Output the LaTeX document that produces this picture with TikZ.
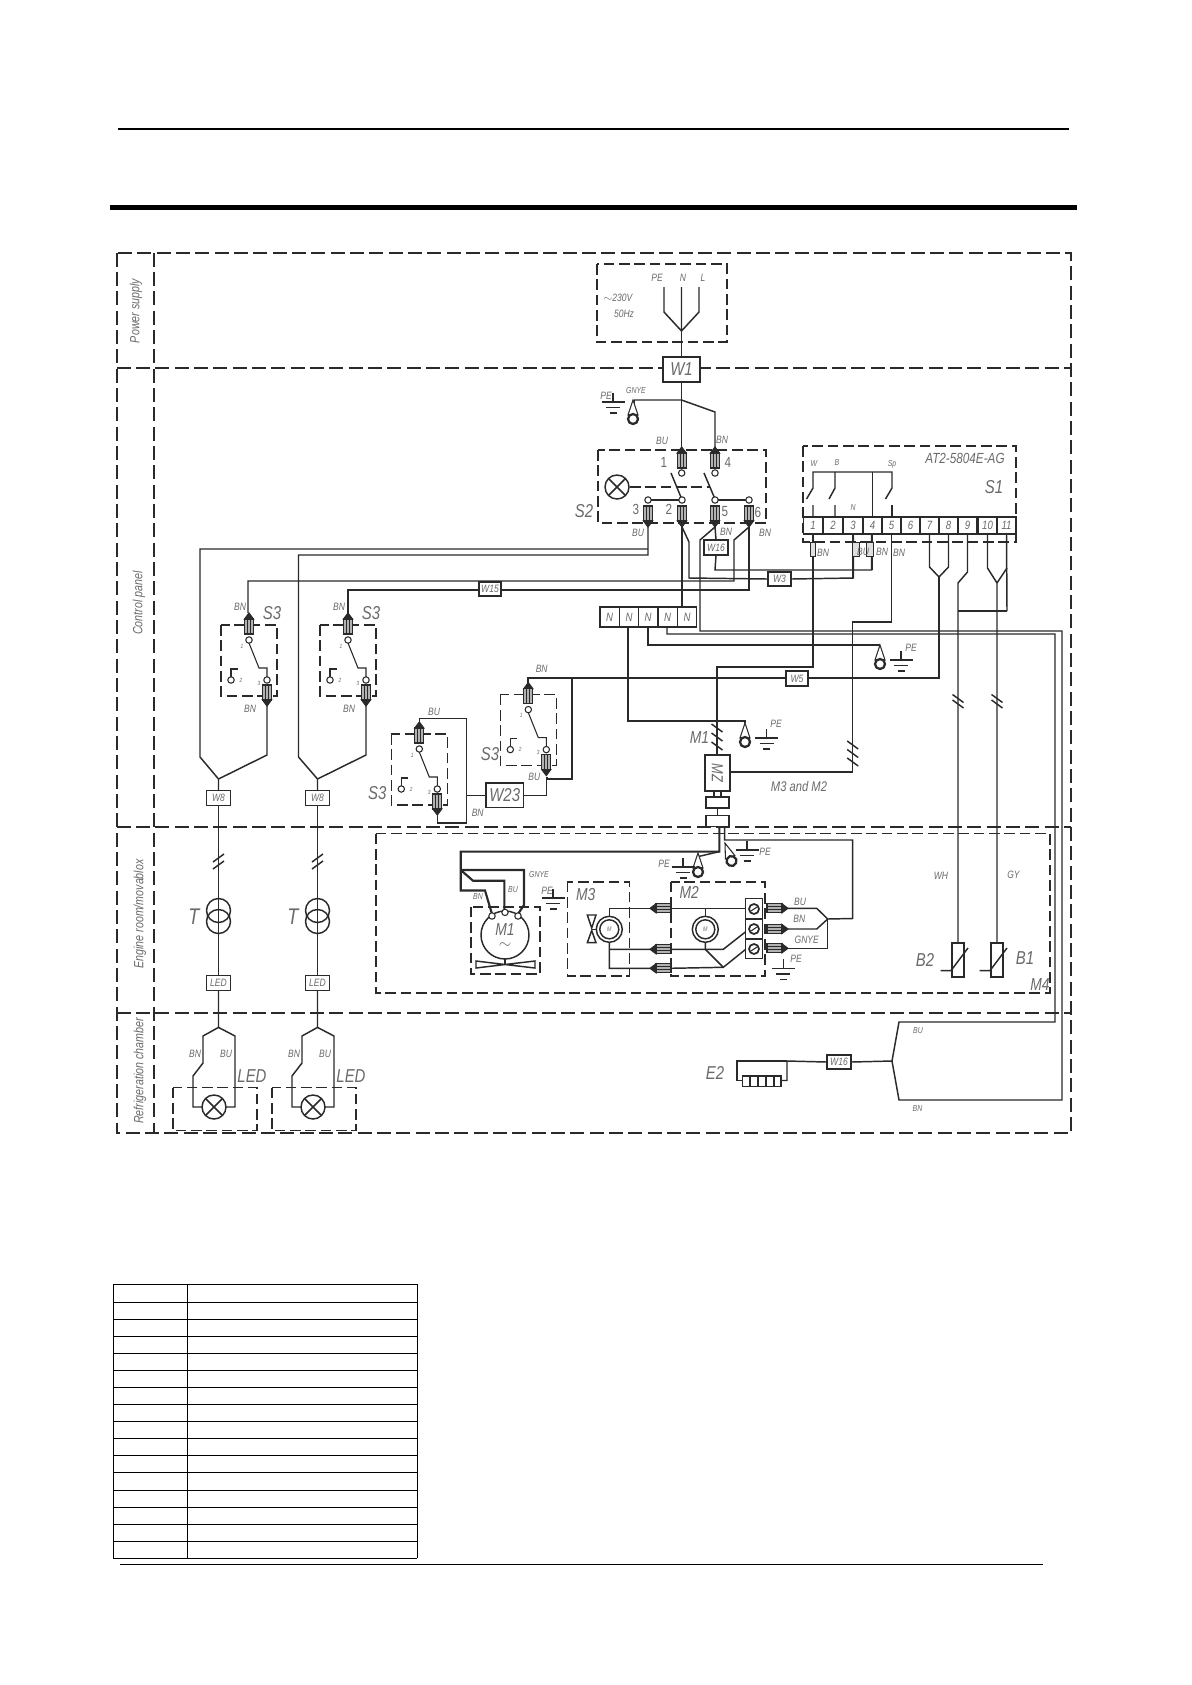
\documentclass[tikz,border=0pt]{standalone}
\usepackage{fontspec}
\setmainfont[FakeStretch=0.8]{Liberation Sans}
\usetikzlibrary{shapes.geometric}
\pgfdeclarelayer{wires}
\pgfsetlayers{wires,main}
\definecolor{ink}{HTML}{2A2A2A}
\definecolor{txt}{HTML}{6A6A6A}
\newcommand{\fsz}[1]{\fontsize{#1}{#1}\selectfont\itshape}
\newcommand{\fup}[1]{\fontsize{#1}{#1}\selectfont}
\tikzset{
  wire/.style={draw=ink,line width=1.1pt,line join=miter},
  heavy/.style={draw=ink,line width=1.6pt},
  fine/.style={draw=ink,line width=.8pt},
  frame/.style={draw=ink,line width=1.4pt,dash pattern=on 10.5pt off 4pt},
  ibox/.style={draw=ink,line width=1.2pt,dash pattern=on 8pt off 3.5pt},
  wbox/.style={draw=ink,line width=1.1pt,fill=white,inner sep=0pt,text=txt,font=\fsz{8}},
  cell/.style={draw=ink,line width=1.1pt,fill=white,inner sep=0pt,text=txt,font=\fsz{9}},
  lbs/.style={text=txt,inner sep=0pt,font=\fsz{6.5}},
  lbm/.style={text=txt,inner sep=0pt,font=\fsz{8}},
  lbl/.style={text=txt,inner sep=0pt,font=\fsz{14}},
  mnum/.style={text=txt,inner sep=0pt,font=\fup{11}},
  side/.style={text=txt,inner sep=0pt,rotate=90,font=\fsz{10}},
  plug/.pic={
    \draw[fine,fill=ink] (-4.5,6)--(0,0)--(4.5,6)--cycle;
    \draw[fine,fill=gray!60] (-4.5,6) rectangle (4.5,21);
    \draw[fine] (-1.5,6)--(-1.5,21) (1.5,6)--(1.5,21);
  },
  ringterm/.pic={
    \draw[fine,fill=white] (0,-19)--(-5,-4)--(5,-4)--cycle;
    \draw[draw=ink,line width=1.7pt,fill=white] (0,0) circle[radius=5];
  },
  gnd/.pic={
    \draw[wire] (0,0)--(0,9) (-11.5,9)--(11.5,9) (-7,14.5)--(7,14.5) (-3.5,20)--(3.5,20);
  },
  lampx/.pic={
    \draw[wire,fill=white] (0,0) circle[radius=12];
    \draw[wire] (-8.5,-8.5)--(8.5,8.5) (-8.5,8.5)--(8.5,-8.5);
  },
  hashb/.pic={
    \draw[wire] (-5.5,-4)--(5.5,4);
  },
  hashf/.pic={
    \draw[wire] (-5.5,4)--(5.5,-4);
  },
  smallring/.pic={
    \draw[fine,fill=white] (0,0) circle[radius=3.2];
  },
  sthree/.pic={
    \draw[ibox] (-28,-15) rectangle (28,56);
    \pic at (0,-27) {plug};
    \pic at (18,66) [rotate=180] {plug};
    \draw[fine] (0,3)--(10,28)--(18,28)--(18,37);
    \draw[fine] (-18,37)--(-18,29)--(-11,29);
    \pic at (0,0) {smallring};
    \pic at (18,40) {smallring};
    \pic at (-18,40) {smallring};
    \node[text=txt,inner sep=0pt,font=\fsz{4.5}] at (-7,6) {1};
    \node[text=txt,inner sep=0pt,font=\fsz{4.5}] at (-8,40) {2};
    \node[text=txt,inner sep=0pt,font=\fsz{4.5}] at (10,43) {3};
  },
  transf/.pic={
    \draw[wire] (0,-11) circle[radius=12];
    \draw[wire] (0,0) circle[radius=12];
  },
}
\begin{document}
\begin{tikzpicture}[x=.75pt,y=-.75pt]
\begin{pgfonlayer}{wires}
\path[use as bounding box,fill=white] (0,0) rectangle (1192,1685);
\end{pgfonlayer}

% page rules
\fill[black] (118,128) rectangle (1069,129.5);
\fill[black] (110,205) rectangle (1077,210);
\fill[black] (120,1563.6) rectangle (1043,1565);

% frame
\draw[frame] (116.7,252.7) rectangle (1071,1133);
\draw[frame] (154.3,252.7)--(154.3,1133);
\draw[frame] (116.7,368)--(1071,368);
\draw[frame] (116.7,827)--(1071,827);
\draw[frame] (116.7,1013)--(1071,1013);
\node[side] (sPower) at (136,311) {Power supply};
\node[side] (sControl) at (139,603) {Control panel};
\node[side] (sEngine) at (140,914) {Engine room/movablox};
\node[side] (sRefr) at (140,1071) {Refrigeration chamber};

% power supply
\draw[ibox] (597,264) rectangle (727,342);
\node[lbm] (tPE) at (657,278) {PE};
\node[lbm] (tN) at (683,278) {N};
\node[lbm] (tL) at (703,278) {L};
\node[lbm] (tV) at (618,298) {$\sim$230V};
\node[lbm] (tHz) at (624,314) {50Hz};
\node[wbox,minimum width=27.5pt,minimum height=19pt,font=\fsz{14}] (W1) at (681.5,369.5) {W1};
\coordinate (psj) at (681.5,331);
\draw[wire] (664,287)--(664,312)--(psj) (681.5,287)--(psj) (699,287)--(699,312)--(psj);
\draw[wire] (psj)--(W1.north);

% S2
\draw[ibox] (598,450) rectangle (766,523);
\draw[wire] (W1.south)--(681.5,450);
\draw[wire] (634,400)--(681.5,400)--(715,412)--(715,450);
\draw[wire] (634,400)--(634,405);
\pic at (633,419) {ringterm};
\pic at (613,393) {gnd};
\node[lbm] (tPEa) at (606,396) {PE};
\node[lbs] (tGNYE) at (636,391) {GNYE};
\node[lbm] (tBUa) at (662,441) {BU};
\node[lbm] (tBNa) at (722,440) {BN};
\node[lbl] (tS2) at (584,511) {S2};
\node[mnum] (t1s) at (664,462) {1};
\node[mnum] (t4s) at (728,462) {4};
\node[mnum] (t3s) at (636,509) {3};
\node[mnum] (t2s) at (669,509) {2};
\node[mnum] (t5s) at (725,512) {5};
\node[mnum] (t6s) at (758,512) {6};
\node[lbm] (tBUb) at (638,533) {BU};
\node[lbm] (tBNb) at (726,532) {BN};
\node[lbm] (tBNc) at (765,533) {BN};
\pic at (617,487) {lampx};
\draw[ibox] (630,487)--(710,487);
\draw[wire] (671,473)--(681.7,499) (704,473)--(715,499);
\draw[wire] (648,500)--(682,500) (715,500)--(749,500);
\pic at (681.7,447) {plug};
\pic at (715,447) {plug};
\pic at (681.7,473) {smallring};
\pic at (715,473) {smallring};
\pic at (648,527) [rotate=180] {plug};
\pic at (682,527) [rotate=180] {plug};
\pic at (715,527) [rotate=180] {plug};
\pic at (749,527) [rotate=180] {plug};
\foreach \px in {648,682,715,749} { \pic at (\px,500) {smallring}; }

% N strip
\foreach \nn/\nx in {1/609.6,2/629,3/648,4/667.5,5/687} {
  \node[cell,minimum width=14.6pt,minimum height=15pt] (N\nn) at (\nx,617) {N};
}
\node[wbox,minimum width=18pt,minimum height=11pt,font=\fsz{8}] (W16a) at (716,547.5) {W16};
\node[wbox,minimum width=17pt,minimum height=10.5pt,font=\fsz{8}] (W3) at (779.5,579) {W3};
\node[wbox,minimum width=16.5pt,minimum height=10.5pt,font=\fsz{8}] (W15) at (490,589) {W15};

% wires from S2
\begin{pgfonlayer}{wires}
\draw[wire] (648,527)--(648,555)--(298.5,555)--(298.5,757)--(317.5,779);
\draw[wire] (648,549)--(200,549)--(200,757)--(218.5,779);
\draw[wire] (682,527)--(682,607);
\draw[wire] (682,527)--(689,542)--(689,578)--(W3.west);
\draw[wire] (715,527)--(W16a.north);
\draw[wire] (715,527)--(700,540)--(700,631)--(1062,631)--(1062,1100)--(899,1100)--(892,1061);
\draw[wire] (749,527)--(749,590)--(348,590)--(348,613);
\draw[wire] (749,527)--(734,540)--(734,581)--(248,581)--(248,613);
\draw[wire] (W16a.south)--(715,570)--(871.6,570)--(871.6,535);
\draw[wire] (W3.east)--(853.5,578)--(853.5,535);
\end{pgfonlayer}

% S1
\draw[ibox] (803,446) rectangle (1016,542);
\node[lbm,font=\fsz{11}] (tAT) at (965,458) {AT2-5804E-AG};
\node[lbl] (tS1) at (994,487) {S1};
\node[lbs] (tw) at (814,464) {W};
\node[lbs] (tb) at (837,463) {B};
\node[lbs] (tsp) at (892,464) {Sp};
\node[lbs] (tnn) at (853,508) {N};
\foreach \n/\a in {1/813,2/833,3/853,4/872.5,5/891.5,6/910.5,7/929.5,8/948.5,9/967.5,10/987.5,11/1006.5} {
  \node[cell,minimum width=14.5pt,minimum height=13pt] (t\n) at (\a,525.5) {\n};
}
\draw[wire] (813,480)--(813,472)--(892,472)--(892,488)--(885.5,499);
\draw[wire] (813,480)--(813,488)--(806.5,499) (813,505)--(t1.north);
\draw[wire] (835,472)--(835,488)--(829,499) (835,505)--(835,517);
\draw[wire] (892,505)--(892,517);
\draw[wire] (872.5,472)--(t4.north);
\draw[wire] (t1.south)--(813,667)--(717,667)--(717,755);
\draw[wire] (t3.south)--(t3.south|-0,578);
\draw[wire] (t4.south)--(t4.south|-0,570);
\draw[wire] (t5.south)--(891.5,622)--(852.7,622)--(852.7,772)--(730,772);
\draw[wire] (t7.south)--(929.5,567)--(939,577);
\draw[wire] (t8.south)--(948.5,567)--(939,577);
\draw[wire] (939,577)--(939,678)--(808,678);
\draw[wire] (786,678)--(528,678)--(528,689);
\draw[wire] (572,678)--(572,779)--(547,779)--(547,777);
\draw[wire] (t9.south)--(967.5,572)--(958,583)--(958,943);
\draw[wire] (958,611)--(1007,611);
\draw[wire] (t10.south)--(987.5,568)--(997,583)--(997,943);
\draw[wire] (t11.south)--(1007,611);
\draw[wire] (1007,568)--(997,583);
\node[draw=ink,fill=gray!25,line width=.8pt,minimum width=4pt,minimum height=11pt,inner sep=0pt] (c1) at (813,549.5) {};
\node[draw=ink,fill=gray!25,line width=.8pt,minimum width=5pt,minimum height=11pt,inner sep=0pt] (c3) at (856,549.5) {};
\node[draw=ink,fill=gray!25,line width=.8pt,minimum width=5pt,minimum height=11pt,inner sep=0pt] (c4) at (870,549.5) {};
\node[lbm] (tb1) at (823,553) {BN};
\node[lbm] (tb2) at (863,552) {BU};
\node[lbm] (tb3) at (882,552) {BN};
\node[lbm] (tb4) at (899,553) {BN};
\pic at (958,698.5) {hashb};
\pic at (958,704) {hashb};
\pic at (997,698.5) {hashb};
\pic at (997,704) {hashb};

% W5 and PE
\node[wbox,minimum width=16.5pt,minimum height=11pt,font=\fsz{8}] (W5) at (797,678.5) {W5};
\draw[wire] (628,627)--(628,721)--(745,721)--(745,723);
\draw[wire] (648,627)--(648,645)--(880,645);
\draw[wire] (667,627)--(667,634)--(1055,634)--(1055,1022)--(899,1022)--(892,1061);
\pic at (745,742) {ringterm};
\pic at (766.6,729) {gnd};
\node[lbm] (tPEb) at (776,724) {PE};
\pic at (880,664) {ringterm};
\pic at (901,651) {gnd};
\node[lbm] (tPEc) at (911,648) {PE};

% ZM group
\node[draw=ink,line width=1.3pt,fill=white,minimum width=19pt,minimum height=27pt,inner sep=0pt] (ZM) at (717.3,773) {};
\node[text=txt,inner sep=0pt,rotate=-90,font=\fsz{12}] (tZM) at (717.3,773) {MZ};
\node[draw=ink,line width=1.1pt,fill=white,minimum width=17pt,minimum height=8pt,inner sep=0pt] (Za) at (717.5,802.5) {};
\node[draw=ink,line width=1.1pt,fill=white,minimum width=17pt,minimum height=8pt,inner sep=0pt] (Zb) at (717.5,821) {};
\draw[wire] (714,791)--(714,797) (721,791)--(721,797) (Za.south)--(Zb.north);
\foreach \hy in {728,737,746} { \pic at (717,\hy) {hashb}; }
\foreach \hy in {745,753.5,762} { \pic at (852.7,\hy) {hashb}; }
\node[lbl,font=\fsz{13}] (tM1a) at (699.5,737.6) {M1};
\node[lbm,font=\fsz{10.5}] (tM32) at (799,786) {M3 and M2};

% wires over band
\draw[heavy] (719.4,826)--(719.4,851.6)--(460.7,851.6)--(460.7,890.5)--(485,890.5)--(492,914);
\draw[wire] (724.6,826)--(724.6,840)--(852.7,840)--(852.7,918.5)--(827.7,919);
\draw[wire] (719.4,851.6)--(698,856.6);
\pic at (698,872) {ringterm};
\pic at (683,858) {gnd};
\node[lbm] (tPEd) at (664,864) {PE};
\pic at (731.5,861) [rotate=20] {ringterm};
\pic at (747,841) {gnd};
\node[lbm] (tPEe) at (765,851.6) {PE};

% M4 box
\draw[ibox] (376,833.6) rectangle (1049.7,993);
\node[lbl,font=\fsz{13}] (tM4) at (1040,985) {M4};
\node[lbm] (tWH) at (941,876) {WH};
\node[lbm] (tGY) at (1013.5,875) {GY};

% M1 motor
\draw[ibox] (470.7,906.7) rectangle (540,974);
\draw[heavy] (460.7,870)--(524,870)--(524,905)--(518,914);
\draw[heavy] (460.7,870)--(473,880.7)--(504.4,880.7)--(504.4,910);
\draw[wire,fill=white] (505,935) circle[radius=24];
\pic at (492,916) {smallring};
\pic at (505,912.4) {smallring};
\pic at (518,916) {smallring};
\node[lbl,font=\fsz{13}] (tM1b) at (505,930) {M1};
\node[lbl,font=\fup{12}] (tmot) at (505,946) {$\sim$};
\draw[wire] (505,959)--(505,965);
\draw[wire] (476,961)--(476,968)--(505,964.5)--cycle (535,961)--(535,968)--(505,964.5)--cycle;
\node[lbs] (tg2) at (539,875) {GNYE};
\node[lbs] (tbu2) at (513,890) {BU};
\node[lbs] (tbn2) at (478,896.5) {BN};
\pic at (553,889) {gnd};
\node[lbm] (tPEf) at (547,891) {PE};

% M3, M2
\draw[ibox] (567.3,881.7) rectangle (629.3,976);
\draw[ibox] (671,881.7) rectangle (765,976);
\node[lbl,font=\fsz{13}] (tM3) at (585.7,895) {M3};
\node[lbl,font=\fsz{13}] (tM2) at (689.3,892.3) {M2};
\draw[wire] (609.3,917)--(609.3,908.3)--(650,908.3) (670,908.3)--(745.7,908.3);
\draw[wire] (609.3,942)--(609.3,968.3)--(650,968.3) (670,968.3)--(723.3,967.3)--(745.7,949.3);
\draw[wire] (609.3,949.3)--(650,949.3) (670,949.3)--(723.3,949.3)--(745.7,931.7);
\draw[wire] (705.3,908.3)--(705.3,916);
\draw[wire] (705.3,942)--(705.3,949.3)--(723.3,967.3);
\foreach \mx in {609.3,705.3} {
  \draw[wire,fill=white] (\mx,929.3) circle[radius=13];
  \draw[wire] (\mx,929.3) circle[radius=9.5];
  \node[text=txt,inner sep=0pt,font=\fsz{5}] at (\mx,929.3) {M};
}
\draw[wire] (587.3,915)--(596,915)--(591.7,928)--cycle (587.3,942.7)--(596,942.7)--(591.7,930.5)--cycle;
\draw[wire] (591.7,929.3)--(596.3,929.3);
\pic at (650,908.3) [rotate=90] {plug};
\pic at (650,949.3) [rotate=90] {plug};
\pic at (650,968.3) [rotate=90] {plug};
\draw[wire,fill=white] (745.7,898.3) rectangle (762.3,958.3);
\draw[wire] (745.7,919)--(762.3,919) (745.7,939)--(762.3,939);
\foreach \ty in {909,929,949} {
  \draw[wire,line width=1.3pt] (754,\ty) circle[radius=5];
  \draw[fine] (751,\ty+2)--(757,\ty-2);
}
\draw[wire] (788,908.3)--(816.7,908.3)--(827.7,919)--(816.7,929)--(788,929);
\draw[wire] (788,948.3)--(827.7,948.3)--(827.7,919);
\pic at (788,908.3) [rotate=-90] {plug};
\pic at (788,929) [rotate=-90] {plug};
\pic at (788,948.3) [rotate=-90] {plug};
\node[lbm] (tBUm) at (800,901.7) {BU};
\node[lbm] (tBNm) at (799.3,919.3) {BN};
\node[lbm] (tGNm) at (806.7,940) {GNYE};
\pic at (783.3,959.3) {gnd};
\node[lbm] (tPEm) at (796,959.3) {PE};

% S3 lower pair
\draw[wire] (419.3,722)--(419.3,718.7)--(466.7,718.7)--(466.7,822.8)--(437.3,822.8)--(437.3,815);
\node[wbox,minimum width=28pt,minimum height=18.5pt,font=\fsz{14}] (W23) at (504.7,795.3) {W23};
\draw[wire] (466.7,795.3)--(W23.west);
\draw[wire] (W23.east)--(546.7,795.3)--(546.7,777);
\pic at (419.3,749) {sthree};
\pic at (528.3,709.6) {sthree};
\node[lbm] (tBUs) at (434,712) {BU};
\node[lbl] (tS3c) at (377.3,793.4) {S3};
\node[lbm] (tBNs) at (477.7,812.7) {BN};
\node[lbl] (tS3d) at (490,754.5) {S3};
\node[lbm] (tBUt) at (534.3,776.5) {BU};
\node[lbm] (tBNt) at (541.7,669) {BN};
\draw[wire] (528.3,678)--(528.3,684);

% two repeated channels
\foreach \dd/\kk in {0/a,99/b} {
\begin{scope}[shift={(\dd,0)}]
  \pic at (249,640) {sthree};
  \draw[wire] (267,706)--(267,755)--(218.5,779)--(218.5,791);
  \node[wbox,minimum width=18pt,minimum height=11pt,font=\fsz{8}] (W8\kk) at (218.5,798) {W8};
  \node[wbox,minimum width=18pt,minimum height=11pt,font=\fsz{8}] (LE\kk) at (218.5,983) {LED};
  \draw[wire] (W8\kk.south)--(LE\kk.north);
  \pic at (218.5,921.5) {transf};
  \pic at (218.5,858) {hashf};
  \pic at (218.5,865) {hashf};
  \draw[wire] (LE\kk.south)--(218.5,1027.4)--(203,1036)--(203,1063)--(193,1076)--(193,1107)--(202,1107);
  \draw[wire] (218.5,1027.4)--(235,1036)--(235,1107)--(226,1107);
  \pic at (214,1107) {lampx};
  \draw[ibox] (172.7,1087.5) rectangle (257,1130.5);
  \node[lbm] (bn\kk) at (195,1054) {BN};
  \node[lbm] (bu\kk) at (226,1054) {BU};
  \node[lbl] (led\kk) at (252,1076.4) {LED};
  \node[lbl,font=\fsz{17}] (tt\kk) at (194,917) {T};
  \node[lbm] (bo\kk) at (250,709) {BN};
  \node[lbm] (bt\kk) at (240,607) {BN};
  \node[lbl] (st\kk) at (272,613) {S3};
\end{scope}
}

% E2
\node[wbox,minimum width=18pt,minimum height=10.5pt,font=\fsz{8}] (W16b) at (839,1062) {W16};
\draw[wire] (W16b.east)--(892,1061);
\draw[wire] (W16b.west)--(787,1061)--(787,1080.5)--(781,1080.5);
\draw[wire] (787,1061)--(737,1061)--(737,1080.5)--(742.5,1080.5);
\draw[wire,fill=white] (742.5,1076) rectangle (781,1086.5);
\foreach \ex in {750,758,766,774} { \draw[wire] (\ex,1076)--(\ex,1086.5); }
\node[lbl] (tE2) at (715,1073) {E2};
\node[lbs] (tBUe) at (918,1031) {BU};
\node[lbs] (tBNe) at (917.5,1109) {BN};

% sensors
\foreach \sx/\ll/\lx/\ly in {958/B2/925/960,997/B1/1025/958} {
  \draw[wire,fill=white] (\sx-6,943) rectangle (\sx+6,977);
  \draw[wire] (\sx-17.5,970.6)--(\sx-7,970.6)--(\sx+10,948);
  \node[lbl] (s\ll) at (\lx,\ly) {\ll};
}

% table
\foreach \ty in {1284.3,1302.3,1319.3,1336.3,1353.3,1370.3,1387.3,1404.3,1421.3,1438.3,1455.3,1472.3,1490.3,1507.3,1524.3,1541.3,1558.3} {
  \draw[black,line width=.85pt] (113.3,\ty)--(417.3,\ty);
}
\draw[black,line width=.85pt] (113.3,1284.3)--(113.3,1558.3) (187.3,1284.3)--(187.3,1558.3) (417.3,1284.3)--(417.3,1558.3);
\end{tikzpicture}
\end{document}
